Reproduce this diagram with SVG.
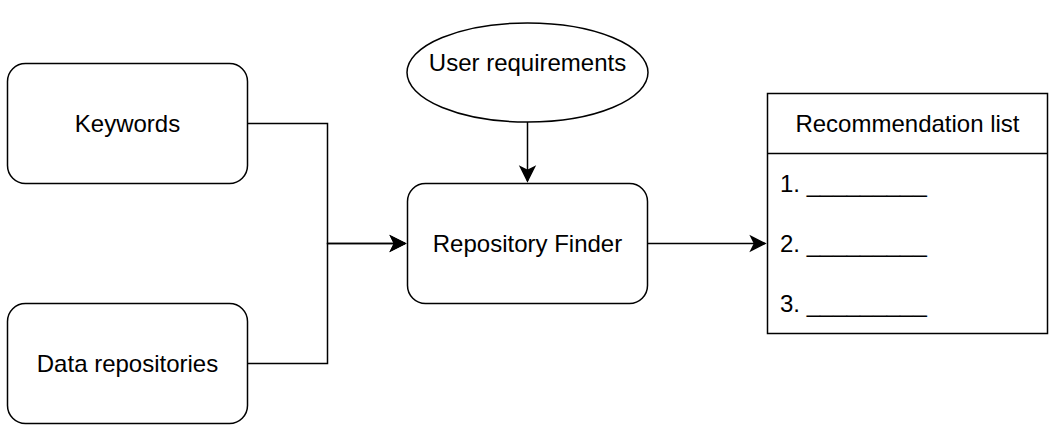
<svg xmlns="http://www.w3.org/2000/svg" width="1049" height="425" viewBox="0 0 1049 425">
<defs>
<style>
.shape{fill:#fff;stroke:#000;stroke-width:1.5}
.edge{fill:none;stroke:#000;stroke-width:1.5}
.lbl{font-family:"Liberation Sans",Arial,sans-serif;font-size:24px;fill:#000}
.c{text-anchor:middle}
</style>
<marker id="arr" markerUnits="userSpaceOnUse" markerWidth="20" markerHeight="20" viewBox="-16 -10 20 20" refX="0" refY="0" orient="auto">
<path d="M0,0 L-14,-7 L-10.5,0 L-14,7 Z" fill="#000" stroke="#000" stroke-width="1.5" stroke-linejoin="miter"/>
</marker>
</defs>
<rect width="1049" height="425" fill="#fff"/>
<g id="edges">
<path class="edge" d="M247.5,123.5 H327.5 V243.5 H405" marker-end="url(#arr)"/>
<path class="edge" d="M247.5,363.5 H327.5 V243.5 H405" marker-end="url(#arr)"/>
<path class="edge" d="M527.5,122 V181" marker-end="url(#arr)"/>
<path class="edge" d="M647.5,243.5 H765" marker-end="url(#arr)"/>
</g>
<g id="keywords">
<rect class="shape" x="7.5" y="63.5" width="240" height="120" rx="18"/>
<text class="lbl c" x="127.5" y="132">Keywords</text>
</g>
<g id="data-repositories">
<rect class="shape" x="7.5" y="303.5" width="240" height="120" rx="18"/>
<text class="lbl c" x="127.5" y="372">Data repositories</text>
</g>
<g id="user-requirements">
<ellipse class="shape" cx="527.5" cy="72.5" rx="120.5" ry="49.5"/>
<text class="lbl c" x="527.5" y="71">User requirements</text>
</g>
<g id="repository-finder">
<rect class="shape" x="407.5" y="183.5" width="240" height="120" rx="18"/>
<text class="lbl c" x="527.5" y="252">Repository Finder</text>
</g>
<g id="recommendation-list">
<rect class="shape" x="767.5" y="93.5" width="280" height="240"/>
<line class="edge" x1="767.5" y1="153.5" x2="1047.5" y2="153.5"/>
<text class="lbl c" x="907.5" y="132">Recommendation list</text>
<text class="lbl" x="780" y="192">1. _________</text>
<text class="lbl" x="780" y="252">2. _________</text>
<text class="lbl" x="780" y="312">3. _________</text>
</g>
</svg>
